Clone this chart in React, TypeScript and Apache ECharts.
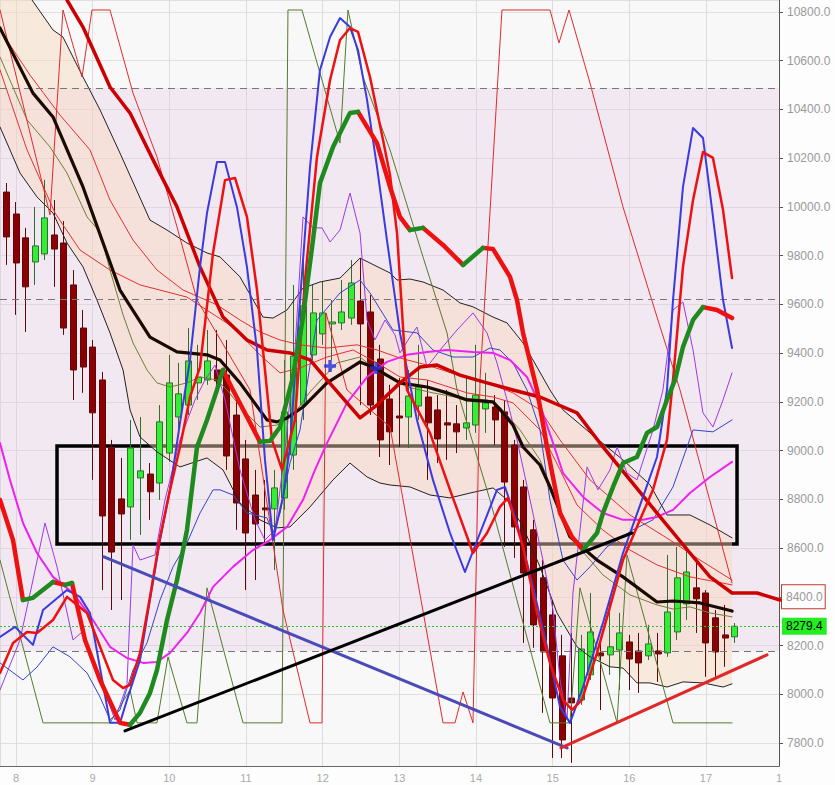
import React, { useEffect, useRef } from 'react';
import * as echarts from 'echarts';

// x axis unit: one 3-hour candle slot; 0 = start of day "8", 8 slots per day
const dayLabels = ['8', '9', '10', '11', '12', '13', '14', '15', '16', '17', '1'];
const xMin = -1.67;
const xMax = 79.62;
const candleStart = -2;

const candleOpen = [10369,10061,9971,9873,9774,9807,9885,9852,9680,9503,9425,9290,9015,8802,8769,8888,8904,8867,8990,9138,9187,9278,9290,9331,9310,9146,8966,8818,8765,8761,8806,8982,9187,9393,9479,9520,9524,9544,9614,9569,9376,9212,9142,9138,9183,9220,9167,9114,9110,9093,9105,9171,9179,9159,9023,8851,8675,8478,8326,8158,7985,7977,8080,8170,8162,8182,8215,8178,8158,8178,8170,8256,8371,8437,8416,8314,8244,8236];
const candleClose = [9754,9877,9770,9672,9840,9955,9827,9503,9331,9343,9155,8732,8584,8740,9011,8917,8831,9118,9278,9233,9368,9302,9368,9286,8978,8785,8662,8699,8757,8847,9159,9388,9594,9565,9565,9528,9569,9688,9520,9187,9044,9077,9134,9224,9261,9114,9048,9105,9077,9114,9228,9196,9126,8871,8687,8498,8285,8174,7985,7813,7965,8186,8256,8158,8195,8252,8145,8129,8207,8166,8338,8478,8502,8392,8211,8174,8231,8279.4];
const candleLow = [9733,9762,9557,9487,9680,9782,9672,9475,9208,9237,8880,8428,8346,8387,8634,8654,8716,8798,8954,9085,9146,9208,9270,9241,8921,8675,8428,8469,8613,8510,8757,8921,9126,9372,9434,9372,9495,9516,9187,9146,8974,8941,9015,9011,9126,8880,8949,8962,8990,9044,9073,9073,9023,8605,8560,8211,8191,7924,7739,7739,7719,7957,8059,7936,8080,8018,8018,8006,8141,8051,8154,8223,8305,8252,8072,8072,8113,8211];
const candleHigh = [10418,10098,10020,9914,10000,10111,10028,9942,9741,9577,9454,9323,9044,8970,9126,9138,8949,9187,9393,9360,9503,9434,9495,9495,9454,9228,9044,8921,8880,8921,9372,9680,9823,9680,9692,9618,9700,9782,9790,9639,9434,9270,9298,9331,9434,9290,9228,9249,9187,9298,9434,9319,9228,9208,9044,8880,8716,8551,8387,8244,8252,8244,8416,8236,8387,8334,8244,8252,8285,8252,8572,8605,8601,8543,8428,8346,8367,8293];
const lastPrice = 8279.4;

const bbUpper = [[-1.67,11046],[1.67,10849],[3.86,10726],[4.9,10697],[6.99,10533],[8.77,10398],[10.85,10221],[13.98,9946],[15.76,9905],[17.84,9852],[19.93,9811],[21.29,9795],[23.37,9713],[25.77,9548],[26.82,9544],[28.28,9577],[29.95,9667],[31.72,9692],[33.81,9708],[35.9,9790],[39.03,9729],[39.76,9700],[41.11,9704],[42.47,9692],[44.56,9659],[46.33,9606],[47.69,9590],[49.78,9548],[51.24,9524],[52.91,9442],[54.37,9343],[55.72,9249],[57.08,9167],[59.9,9073],[63.34,8962],[66.16,8860],[67.93,8736],[70.33,8736],[72.42,8695],[74.72,8642]];
const bbMiddle = [[-1.67,10734],[1.77,10467],[3.86,10369],[6.99,10082],[10.85,9659],[13.98,9466],[16.8,9405],[19.93,9393],[21.29,9372],[23.37,9278],[26.19,9126],[27.23,9118],[28.28,9134],[29.95,9179],[32.45,9278],[35.9,9364],[37.25,9343],[40.07,9278],[42.89,9261],[44.98,9237],[47.06,9208],[49.78,9200],[50.82,9155],[51.86,9105],[52.91,9015],[54.68,8941],[55.72,8851],[57.81,8646],[60.63,8551],[63.34,8482],[66.89,8379],[68.56,8383],[71.38,8375],[74.72,8342]];
const bbLower = [[-1.67,10328],[0.42,10139],[2.19,10041],[3.86,9975],[5.32,9852],[6.99,9754],[8.45,9618],[9.81,9483],[11.17,9331],[11.9,9167],[12.94,9056],[14.71,8995],[17.11,8933],[19.93,8970],[21.6,8921],[23.37,8785],[25.46,8716],[27.23,8683],[28.59,8687],[30.68,8769],[33.08,8880],[34.85,8949],[36.63,8892],[37.98,8867],[39.03,8859],[41.11,8851],[43.2,8818],[45.29,8806],[47.38,8826],[49.78,8847],[51.24,8798],[52.91,8687],[54.68,8523],[56.45,8334],[58.54,8195],[59.9,8154],[61.98,8113],[63.34,8108],[64.8,8047],[66.16,8047],[67.93,8030],[69.6,8051],[71.69,8047],[73.78,8030],[74.72,8043]];

const slowMA = [[4.59,10931],[5.32,10849],[6.99,10738],[9.81,10492],[11.9,10385],[14.3,10193],[16.8,10000],[19.2,9754],[21.6,9548],[24.1,9454],[26.19,9413],[28.59,9401],[30.68,9372],[32.45,9290],[34.54,9196],[35.9,9134],[37.67,9187],[40.07,9278],[42.16,9343],[43.93,9351],[46.33,9310],[49.15,9278],[51.86,9249],[54.68,9220],[58.54,9155],[61.25,9015],[64.07,8880],[66.89,8744],[70.33,8580],[72.42,8482],[74.72,8416],[77.33,8416],[79.72,8387]];
const slowMALast = 8400;

const hullLine = [[-1.67,8798],[-0.31,8633],[0.73,8387],[1.77,8396],[3.86,8461],[5.11,8449],[5.84,8457],[7.2,8223],[8.77,8059],[10.85,7883],[11.9,7875],[12.94,7924],[13.98,8006],[14.71,8100],[15.76,8305],[16.8,8469],[17.84,8674],[18.89,9015],[19.93,9126],[20.97,9249],[21.6,9331],[22.64,9249],[25.46,9036],[26.51,9040],[27.55,9097],[28.9,9302],[29.95,9548],[30.99,9864],[31.72,10098],[33.08,10246],[34.85,10385],[35.69,10390],[37.67,10262],[39.03,10082],[40.07,9959],[41.11,9905],[42.47,9914],[44.56,9844],[46.65,9762],[48.73,9832],[49.78,9827],[51.55,9713],[52.28,9618],[52.91,9483],[54.37,9249],[55.41,9015],[56.77,8744],[58.02,8646],[59.17,8592],[60.63,8662],[61.25,8744],[62.3,8851],[63.34,8949],[64.8,8974],[65.85,9073],[66.89,9097],[67.93,9208],[68.77,9290],[69.6,9425],[70.65,9536],[71.69,9589],[73.15,9577],[74.72,9544]];

const blueMedium = [[-1.67,8236],[-0.1,8277],[1.77,8203],[2.82,8346],[5.32,8428],[6.68,8400],[7.72,8334],[9.81,7883],[10.85,7883],[11.58,7977],[12.94,8141],[13.98,8387],[15.03,8633],[16.07,8839],[17.11,9114],[18.16,9372],[19.2,9754],[19.93,9975],[20.97,10184],[21.81,10184],[23.06,9999],[24.1,9754],[25.15,9413],[25.98,8962],[26.82,8633],[27.86,8810],[28.59,9015],[29.64,9618],[30.68,10164],[31.72,10562],[32.77,10697],[33.81,10775],[34.85,10738],[35.69,10644],[36.63,10439],[37.67,10164],[38.71,9864],[40.07,9483],[41.84,9126],[43.51,8880],[45.29,8662],[46.85,8502],[48.42,8662],[50.19,8839],[51.03,8851],[52.28,8703],[53.95,8441],[55.41,8195],[56.77,7948],[57.81,7883],[59.17,8030],[61.25,8293],[63.34,8580],[65.43,8810],[66.89,8974],[67.93,9249],[68.56,9618],[69.6,10082],[70.65,10324],[71.69,10283],[72.73,9959],[73.78,9618],[74.72,9421]];
const redMedium = [[-1.67,8088],[-0.31,8211],[1.15,8256],[2.19,8252],[3.86,8305],[5.32,8400],[7.41,8334],[8.77,8195],[10.12,8059],[11.17,8026],[11.9,8039],[12.94,8170],[13.98,8400],[15.03,8646],[16.07,8839],[17.11,9015],[18.16,9220],[19.2,9343],[20.56,9811],[21.81,10110],[22.85,10119],[24.1,9959],[25.15,9659],[25.77,9413],[26.71,9044],[27.76,8921],[29.11,9126],[30.16,9700],[31.41,10205],[32.77,10521],[33.81,10685],[34.85,10734],[35.69,10718],[36.94,10533],[38.3,10275],[39.03,10131],[39.76,9893],[40.8,9249],[43.2,9073],[45.29,8839],[47.69,8580],[49.15,8662],[50.5,8769],[51.34,8806],[52.91,8605],[54.37,8334],[55.72,8129],[57.08,7977],[58.02,7936],[59.06,7977],[60.63,8170],[61.98,8359],[63.34,8551],[65.11,8716],[66.47,8839],[67.93,9044],[68.56,9290],[69.6,9754],[70.65,10028],[71.69,10225],[72.73,10201],[73.78,9987],[74.72,9708]];

const magentaMA = [[-1.67,9031],[-0.63,8880],[0.73,8703],[2.19,8580],[3.86,8482],[5.95,8416],[8.03,8305],[9.81,8195],[11.58,8149],[13.25,8129],[14.71,8133],[16.07,8170],[17.84,8252],[19.2,8334],[20.56,8441],[22.64,8523],[24.73,8592],[26.51,8633],[28.28,8687],[29.95,8798],[31.2,8921],[32.45,9031],[34.54,9196],[36.63,9302],[38.71,9364],[40.8,9393],[42.89,9405],[44.98,9413],[47.69,9405],[49.78,9401],[51.55,9372],[53.32,9302],[54.68,9187],[55.93,9044],[57.08,8908],[59.17,8810],[61.25,8744],[63.34,8716],[65.43,8716],[66.89,8728],[68.56,8757],[70.33,8826],[72.42,8892],[74.72,8954]];
const oliveMA = [[-1.67,10615],[1.15,10357],[3.55,10246],[5.32,10139],[7.41,9959],[8.77,9897],[9.81,9741],[11.17,9557],[12.21,9442],[13.67,9331],[14.71,9278],[16.07,9261],[17.84,9278],[19.2,9302],[20.97,9290],[22.02,9249],[23.69,9167],[25.46,9097],[27.23,9105],[28.9,9146],[30.68,9241],[33.5,9360],[35.9,9384],[37.98,9319],[40.8,9261],[43.51,9237],[46.33,9216],[49.15,9208],[50.5,9179],[52.59,9085],[54.68,8962],[56.77,8757],[58.54,8613],[61.25,8490],[64.07,8408],[66.89,8367],[68.56,8350],[70.33,8359],[72.42,8334],[74.72,8318]];
const oliveExtreme = [[-1.67,8551],[2.82,7883],[9.81,7883],[11.9,8018],[12.63,7883],[14.71,7883],[15.86,8154],[17.84,7883],[18.89,7883],[19.93,8437],[23.69,7883],[27.76,7883],[28.38,10808],[29.84,10808],[33.81,10262],[34.64,10808],[36.21,10533],[39.03,10234],[42.47,9795],[44.98,9483],[46.02,9249],[49.46,8798],[55.72,7883],[57.81,7883],[58.85,8437],[62.72,7883],[63.76,8572],[68.56,7883],[74.72,7883]];
const redExtreme = [[-1.67,10808],[3.55,9967],[4.9,10808],[6.89,10533],[7.93,10808],[9.81,10808],[12.21,10467],[14.71,10205],[16.8,9918],[18.89,9618],[24.42,9249],[27.86,8346],[30.68,7883],[31.93,7883],[32.35,9565],[34.54,9249],[39.03,9097],[44.56,7883],[45.81,7883],[46.65,8010],[47.69,7883],[48.42,9289],[50.71,10808],[55.72,10808],[56.66,10673],[57.71,10808],[59.9,10508],[63.34,10000],[66.89,9548],[69.29,9249],[74.72,8457]];
const thinRedA = [[-1.67,10726],[1.46,10541],[4.59,10377],[7.72,10234],[9.81,10028],[12.21,9864],[14.71,9741],[17.43,9659],[20.97,9598],[23.37,9536],[25.46,9487],[27.55,9454],[29.64,9434],[32.45,9421],[35.58,9434],[37.67,9413],[40.07,9380],[42.89,9351],[47.06,9298],[49.78,9269],[51.86,9237],[54.68,9167],[56.77,9044],[59.9,8880],[64.07,8736],[68.25,8633],[71.38,8551],[74.72,8469]];
const thinRedB = [[-1.67,10562],[1.15,10234],[4.07,9975],[6.68,9823],[9.81,9741],[12.94,9680],[17.84,9630],[22.64,9507],[25.46,9393],[27.55,9319],[29.64,9339],[32.45,9384],[35.17,9413],[37.67,9360],[40.07,9302],[42.89,9290],[47.06,9237],[49.78,9220],[51.86,9196],[54.68,9085],[56.77,8921],[58.54,8777],[61.25,8674],[64.07,8592],[66.89,8531],[70.33,8482],[74.72,8449]];
const violetLine = [[-1.67,8018],[0.42,8223],[1.77,8469],[3.03,8703],[4.28,8523],[5.95,8223],[6.89,8256],[8.24,8121],[10.33,7895],[11.58,8039],[12.21,8613],[12.94,8551],[14.5,8572],[15.55,8798],[17.11,9044],[18.68,9208],[19.72,9290],[20.77,9351],[21.81,9208],[23.37,8921],[24.94,8716],[25.98,8633],[27.03,8675],[28.07,9003],[29.11,9413],[29.95,9959],[30.99,9914],[31.93,9914],[32.77,9856],[33.81,9905],[34.85,10057],[35.9,9893],[36.63,9536],[37.46,9454],[38.51,9536],[39.55,9475],[40.07,9401],[41.11,9466],[41.84,9507],[42.89,9343],[44.25,9413],[46.02,9495],[47.69,9565],[49.15,9483],[50.19,9360],[51.24,9208],[52.28,9044],[53.64,8798],[54.99,8551],[56.04,8346],[56.77,8059],[57.5,7895],[58.12,8416],[59.59,8933],[60.73,8839],[61.98,8921],[62.72,9015],[63.76,8908],[64.8,8880],[66.47,9085],[67.51,9249],[68.56,9577],[69.6,9610],[70.65,9413],[71.69,9155],[72.73,9097],[73.78,9208],[74.72,9319]];
const thinBlue = [[-1.67,8129],[0.73,8059],[2.19,8112],[3.86,8195],[5.63,8154],[7.41,8088],[8.77,7989],[9.81,7895],[10.85,7936],[12.21,8100],[13.67,8211],[15.03,8387],[16.38,8523],[17.84,8621],[19.2,8744],[20.56,8839],[21.29,8839],[22.64,8818],[24.1,8744],[26.19,8724],[26.82,8662],[27.55,8744],[28.59,8949],[29.64,9085],[31.41,9536],[33.81,9647],[35.9,9700],[36.94,9647],[39.34,9495],[41.84,9483],[43.51,9413],[45.6,9384],[47.69,9384],[49.46,9421],[50.5,9413],[51.86,9360],[53.32,9249],[54.68,9085],[55.72,8798],[57.08,8551],[58.54,8469],[59.9,8523],[61.67,8605],[64.38,8675],[66.47,8716],[68.56,8851],[70.65,9085],[72.73,9077],[74.72,9126]];

const trendBlack = [[11.37,7850],[64.28,8662]];
const trendBlue = [[9.18,8564],[57.5,7780]];
const trendRed = [[56.87,7780],[78.37,8162]];
const boxCorners = [[4.28,9019],[75.24,8617]];
const crossMarks = [[32.77,9347],[37.57,9339]];
const levelLines = [10488, 9622, 8178];

function splitByDirection(pts: number[][]) {
  const up: any[] = [];
  const down: any[] = [];
  for (let i = 0; i < pts.length - 1; i++) {
    const a = pts[i];
    const b = pts[i + 1];
    const tgt = b[1] >= a[1] ? up : down;
    if (tgt.length === 0 || tgt[tgt.length - 1] !== a) {
      if (tgt.length) tgt.push([a[0], '-']);
      tgt.push(a);
    }
    tgt.push(b);
  }
  return { up, down };
}

export default function App() {
  const ref = useRef<HTMLDivElement>(null);
  useEffect(() => {
    const chart = echarts.init(ref.current!, null, { renderer: 'svg' });
    const font = 'Liberation Sans, Arial, sans-serif';
    const line = (data: any[], color: string, width: number, z: number, extra: any = {}) => ({
      type: 'line', data, symbol: 'none', silent: true, z, clip: true,
      lineStyle: { color, width, cap: 'round', join: 'round' }, ...extra,
    });
    const candles = candleOpen.map((o, i) => [candleStart + i, o, candleClose[i], candleLow[i], candleHigh[i]]);
    const hull = splitByDirection(hullLine);

    const option: any = {
      animation: false,
      backgroundColor: '#fdfdfd',
      grid: { left: 0, right: 56, top: 0, bottom: 19, show: true, backgroundColor: '#f8f8f8', borderWidth: 0, containLabel: false, outerBoundsMode: 'none' },
      xAxis: {
        type: 'value', min: xMin, max: xMax, minInterval: 8, maxInterval: 8,
        axisLine: { show: true, onZero: false, lineStyle: { color: '#666', width: 1 } },
        axisTick: { show: false },
        splitLine: { show: true, lineStyle: { color: '#dddddd', width: 1 } },
        axisLabel: {
          color: '#aaa', fontSize: 11, margin: 6, fontFamily: 'Liberation Sans Narrow, Liberation Sans, Arial',
          showMinLabel: false, showMaxLabel: true,
          formatter: (v: number) => (v > 76 ? dayLabels[10] : (dayLabels[Math.round(v / 8)] ?? '')),
        },
      },
      yAxis: {
        type: 'value', position: 'right', min: 7706, max: 10849, minInterval: 200, maxInterval: 200,
        axisLine: { show: true, onZero: false, lineStyle: { color: '#555', width: 1 } },
        axisTick: { show: true, length: 4, lineStyle: { color: '#555' } },
        splitLine: { show: true, lineStyle: { color: '#e0e0e0', width: 1 } },
        axisLabel: {
          color: '#999', fontSize: 12, margin: 8, fontFamily: font,
          showMinLabel: false, showMaxLabel: false,
          formatter: (v: number) => v.toFixed(1),
        },
      },
      series: [
        {
          type: 'line', data: [[xMin, levelLines[2]]], symbol: 'none', silent: true, z: 0,
          lineStyle: { width: 0, opacity: 0 },
          markArea: { silent: true, itemStyle: { color: 'rgba(228,196,228,0.3)' }, data: [[{ yAxis: levelLines[2] }, { yAxis: levelLines[0] }]] },
        },
        {
          type: 'custom', z: 1, silent: true, clip: true,
          data: [[bbUpper[0][0], bbUpper[0][1]]], encode: { x: 0, y: 1 },
          renderItem: (params: any, api: any) => {
            const pts = bbUpper.map((p) => api.coord(p)).concat(bbLower.slice().reverse().map((p) => api.coord(p)));
            const cs = params.coordSys;
            return {
              type: 'polygon', shape: { points: pts },
              style: { fill: 'rgba(248,214,188,0.45)' },
              clipPath: { type: 'rect', shape: { x: cs.x, y: cs.y, width: cs.width, height: cs.height } },
            };
          },
        },
        {
          type: 'candlestick', z: 2, silent: true, barWidth: 6.5, data: candles, clip: false,
          encode: { x: 0, y: [1, 2, 3, 4] },
          itemStyle: { color: '#33ee33', color0: '#8b0000', borderColor: '#2f6f2f', borderColor0: '#5e0a0a', borderWidth: 1 },
          markLine: {
            silent: true, symbol: 'none',
            data: [
              ...levelLines.map((v) => ({ yAxis: v, lineStyle: { color: '#777', type: [7, 5], width: 1 }, label: { show: false } })),
              {
                yAxis: lastPrice, lineStyle: { color: '#22cc22', type: [2, 2], width: 1 },
                label: { show: true, position: 'end', formatter: lastPrice.toFixed(1), color: '#000', backgroundColor: '#22ee22', padding: [3, 4, 2, 4], distance: 3, fontSize: 12, fontFamily: font },
              },
            ],
          },
        },
        line(bbUpper, '#222', 1, 3),
        line(bbLower, '#222', 1, 3),
        line(oliveMA, '#6e7f38', 1, 3),
        line(thinRedA, '#e23030', 1, 3),
        line(thinRedB, '#e23030', 1, 3),
        line(oliveExtreme, '#557a2c', 1, 3),
        line(redExtreme, '#e02a2a', 1, 3),
        line(violetLine, '#9a3ae8', 1, 4),
        line(thinBlue, '#3444d0', 1, 4),
        line(magentaMA, '#ee22ee', 2, 4),
        line(bbMiddle, '#1a0a02', 3.2, 5),
        line(slowMA, '#cc0000', 3.5, 5, {
          markLine: {
            silent: true, symbol: 'none',
            data: [{
              yAxis: slowMALast, lineStyle: { width: 0, color: 'rgba(0,0,0,0)' },
              label: { show: true, position: 'end', formatter: slowMALast.toFixed(1), color: '#999', backgroundColor: '#fdfdfd', borderColor: '#c0392b', borderWidth: 1, padding: [6, 2, 5, 4], distance: 3, fontSize: 12, fontFamily: font },
            }],
          },
        }),
        line(blueMedium, '#3a3ae0', 2, 6),
        line(redMedium, '#ee1111', 2.5, 6),
        line(hull.down, '#ee1111', 4.5, 7),
        line(hull.up, '#1f8a1f', 4.5, 7),
        line(trendBlue, '#4a4ab8', 3, 8),
        line(trendRed, '#e02828', 3, 8),
        line(trendBlack, '#000', 3, 8, {
          markArea: {
            silent: true,
            itemStyle: { color: 'rgba(0,0,0,0)', borderColor: '#000', borderWidth: 3.5 },
            data: [[{ coord: boxCorners[0] }, { coord: boxCorners[1] }]],
          },
        }),
        {
          type: 'scatter', z: 9, silent: true, data: crossMarks,
          symbol: 'path://M5,0H9V5H14V9H9V14H5V9H0V5H5Z', symbolSize: 12,
          itemStyle: { color: '#1f2fe0' },
        },
      ],
    };
    chart.setOption(option);
    return () => chart.dispose();
  }, []);
  return <div ref={ref} style={{ position: 'fixed', left: 0, top: 0, width: 835, height: 785 }} />;
}
